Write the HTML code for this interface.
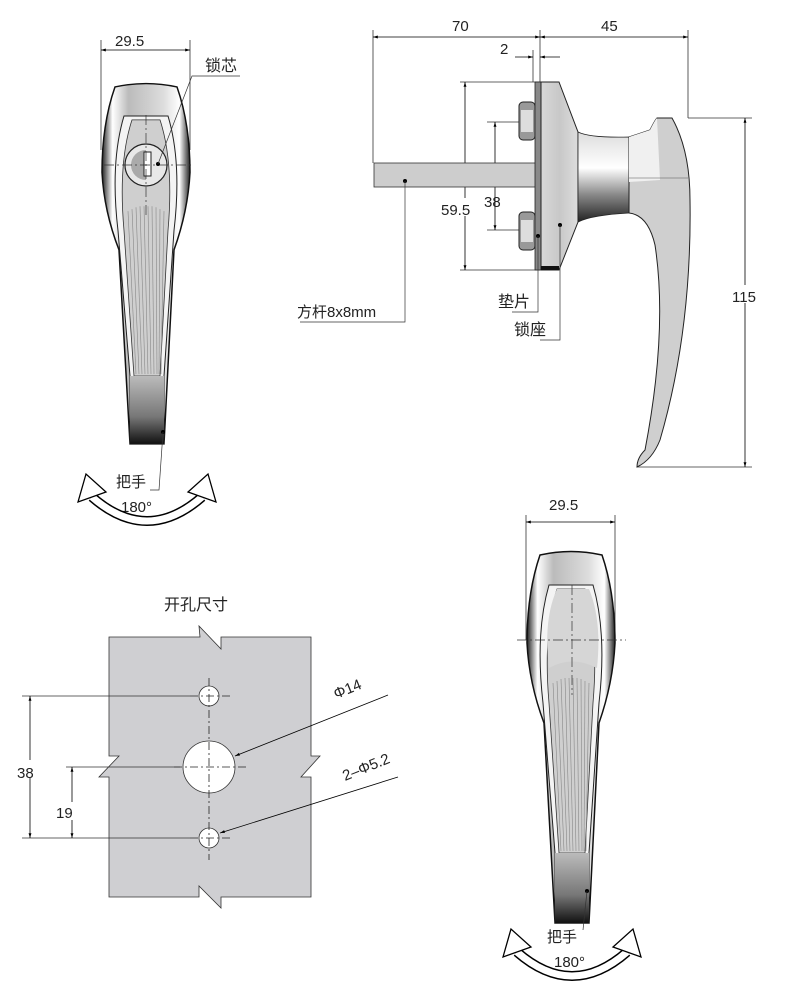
<!DOCTYPE html>
<html><head><meta charset="utf-8"><style>
html,body{margin:0;padding:0;background:#fff}
svg{display:block}
text{font-family:"Liberation Sans","Noto Sans CJK SC",sans-serif;fill:#222}
</style></head><body>
<svg width="788" height="1000" viewBox="0 0 788 1000" xmlns="http://www.w3.org/2000/svg">
<defs>
<linearGradient id="metal" x1="0" x2="1" y1="0" y2="0">
<stop offset="0" stop-color="#222"/><stop offset="0.12" stop-color="#fff"/><stop offset="0.3" stop-color="#bbb"/><stop offset="0.7" stop-color="#ddd"/><stop offset="0.88" stop-color="#fff"/><stop offset="1" stop-color="#222"/>
</linearGradient>
<linearGradient id="btm" x1="0" x2="0" y1="0" y2="1">
<stop offset="0" stop-color="#bbb"/><stop offset="0.6" stop-color="#777"/><stop offset="1" stop-color="#111"/>
</linearGradient>
<linearGradient id="side" x1="0" x2="1" y1="0" y2="0">
<stop offset="0" stop-color="#d8d8d8"/><stop offset="0.5" stop-color="#c8c8c8"/><stop offset="1" stop-color="#ddd"/>
</linearGradient>
<linearGradient id="neck" x1="0" x2="0" y1="0" y2="1">
<stop offset="0" stop-color="#ddd"/><stop offset="0.4" stop-color="#fff"/><stop offset="0.7" stop-color="#888"/><stop offset="1" stop-color="#222"/>
</linearGradient>
<marker id="ar" viewBox="0 0 10 10" refX="10" refY="5" markerWidth="8" markerHeight="6" orient="auto-start-reverse"><path d="M0,2 L10,5 L0,8Z" fill="#000"/></marker>
<g id="handle">
<path d="M13,2 Q44,-5 75,2 Q88,40 88,90 Q86,130 72,170 L62,370 L28,370 L17,170 Q2,130 0,90 Q0,40 13,2 Z" fill="url(#metal)" stroke="#111" stroke-width="1.5"/>
<path d="M22,32 L66,32 Q80,80 72,150 L62,300 L62,370 L28,370 L28,300 L16,150 Q8,80 22,32Z" fill="#f4f4f4" stroke="#222" stroke-width="1"/>
<path d="M30,36 L58,36 Q72,80 66,150 L58,300 L32,300 L22,150 Q16,80 30,36Z" fill="#cfcfcf" stroke="#333" stroke-width="0.8"/>
<g stroke="#888" stroke-width="0.6">
<line x1="26" y1="130" x2="34" y2="298"/><line x1="30" y1="128" x2="37" y2="298"/><line x1="34" y1="126" x2="40" y2="298"/><line x1="38" y1="125" x2="43" y2="298"/><line x1="42" y1="125" x2="46" y2="298"/><line x1="46" y1="125" x2="49" y2="298"/><line x1="50" y1="125" x2="52" y2="298"/><line x1="54" y1="126" x2="55" y2="298"/><line x1="58" y1="128" x2="57" y2="298"/><line x1="62" y1="130" x2="59" y2="298"/>
</g>
<path d="M28,300 L62,300 L62,370 L28,370Z" fill="url(#btm)"/>
</g>
<g id="rot">
<path d="M92,497 Q147,545 202,497" fill="none" stroke="#000" stroke-width="10"/>
<path d="M92,497 Q147,545 202,497" fill="none" stroke="#fff" stroke-width="7"/>
<path d="M78,502 L86,474 L106,492Z" fill="#fff" stroke="#000" stroke-width="1.3"/>
<path d="M216,502 L208,474 L188,492Z" fill="#fff" stroke="#000" stroke-width="1.3"/>
</g>
</defs>

<!-- TOP-LEFT FRONT VIEW -->
<line x1="101" y1="40" x2="101" y2="150" stroke="#333" stroke-width="0.8"/>
<line x1="190" y1="40" x2="190" y2="150" stroke="#333" stroke-width="0.8"/>
<line x1="101" y1="50" x2="190" y2="50" stroke="#000" stroke-width="0.8" marker-start="url(#ar)" marker-end="url(#ar)"/>
<text x="115" y="46" font-size="15">29.5</text>
<use href="#handle" transform="translate(102,85) scale(1.0,0.97)"/>
<circle cx="146" cy="165" r="21" fill="#e8e8e8" stroke="#222" stroke-width="1.2"/>
<path d="M146,150 A15,15 0 0,0 146,180Z" fill="#aaa"/>
<rect x="144" y="152" width="7" height="24" fill="#fff" stroke="#222" stroke-width="1"/>
<line x1="104" y1="165" x2="192" y2="165" stroke="#333" stroke-width="0.7" stroke-dasharray="10,3,2,3"/>
<line x1="146" y1="115" x2="146" y2="215" stroke="#333" stroke-width="0.7" stroke-dasharray="10,3,2,3"/>
<circle cx="158" cy="164" r="2" fill="#000"/>
<polyline points="158,164 192,76 240,76" fill="none" stroke="#333" stroke-width="0.7"/>
<text x="205" y="71" font-size="16">锁芯</text>
<circle cx="163" cy="432" r="2" fill="#000"/>
<polyline points="163,432 159,490 150,490" fill="none" stroke="#333" stroke-width="0.7"/>
<text x="116" y="487" font-size="15">把手</text>
<text x="121" y="512" font-size="15">180°</text>
<use href="#rot"/>

<!-- SIDE VIEW -->
<g stroke="#333" stroke-width="0.8" fill="none">
<line x1="373" y1="30" x2="373" y2="163"/>
<line x1="540" y1="30" x2="540" y2="82"/>
<line x1="533" y1="50" x2="533" y2="82"/>
<line x1="688" y1="30" x2="688" y2="118"/>
<line x1="460" y1="82" x2="540" y2="82"/>
<line x1="460" y1="270" x2="540" y2="270"/>
<line x1="487" y1="122" x2="548" y2="122"/>
<line x1="487" y1="230" x2="548" y2="230"/>
<line x1="688" y1="118" x2="752" y2="118"/>
<line x1="637" y1="467" x2="752" y2="467"/>
</g>
<line x1="373" y1="37" x2="540" y2="37" stroke="#000" stroke-width="0.8" marker-start="url(#ar)" marker-end="url(#ar)"/>
<line x1="540" y1="37" x2="688" y2="37" stroke="#000" stroke-width="0.8" marker-start="url(#ar)" marker-end="url(#ar)"/>
<line x1="515" y1="57" x2="533" y2="57" stroke="#000" stroke-width="0.8" marker-end="url(#ar)"/>
<line x1="560" y1="57" x2="540" y2="57" stroke="#000" stroke-width="0.8" marker-end="url(#ar)"/>
<line x1="465" y1="82" x2="465" y2="270" stroke="#000" stroke-width="0.8" marker-start="url(#ar)" marker-end="url(#ar)"/>
<line x1="495" y1="122" x2="495" y2="230" stroke="#000" stroke-width="0.8" marker-start="url(#ar)" marker-end="url(#ar)"/>
<line x1="745" y1="118" x2="745" y2="467" stroke="#000" stroke-width="0.8" marker-start="url(#ar)" marker-end="url(#ar)"/>
<text x="452" y="31" font-size="15">70</text>
<text x="601" y="31" font-size="15">45</text>
<text x="500" y="54" font-size="15">2</text>
<rect x="440" y="198" width="42" height="18" fill="#fff"/>
<text x="441" y="215" font-size="15">59.5</text>
<text x="484" y="207" font-size="15">38</text>
<rect x="730" y="285" width="36" height="18" fill="#fff"/>
<text x="732" y="302" font-size="15">115</text>
<!-- shaft -->
<rect x="374" y="163" width="162" height="24" fill="#cdcdcd" stroke="#333" stroke-width="0.8"/>
<!-- nuts -->
<rect x="519" y="102" width="16" height="38" rx="4" fill="#999" stroke="#222"/>
<rect x="521" y="110" width="12" height="22" fill="#ddd"/>
<rect x="519" y="212" width="16" height="38" rx="4" fill="#999" stroke="#222"/>
<rect x="521" y="220" width="12" height="22" fill="#ddd"/>
<!-- gasket & seat -->
<rect x="535" y="82" width="6" height="188" fill="#888" stroke="#222" stroke-width="0.8"/>
<path d="M541,82 L559,82 L578,132 L578,222 L559,270 L541,270Z" fill="url(#side)" stroke="#222" stroke-width="1"/>
<rect x="541" y="266" width="18" height="4" fill="#111"/>
<!-- neck -->
<path d="M578,132 Q590,138 629,137 L629,213 Q592,215 578,222Z" fill="url(#neck)" stroke="#222" stroke-width="0.8"/>
<!-- lever -->
<path d="M629,137 L650,130 Q655,120 657,118 L672,118 Q690,150 690,200 Q692,330 660,440 Q652,460 637,467 Q637,458 645,450 Q668,330 655,245 Q648,215 629,213Z" fill="#cfcfcf" stroke="#222" stroke-width="1"/>
<path d="M629,137 L650,130 Q655,120 657,118 L660,180 L629,182Z" fill="#f0f0f0"/>
<line x1="629" y1="178" x2="688" y2="178" stroke="#555" stroke-width="0.6"/>
<circle cx="405" cy="181" r="2" fill="#000"/>
<polyline points="405,181 405,322 300,322" fill="none" stroke="#333" stroke-width="0.7"/>
<text x="297" y="317" font-size="15">方杆8x8mm</text>
<circle cx="538" cy="236" r="2" fill="#000"/>
<polyline points="538,236 538,312 512,312" fill="none" stroke="#333" stroke-width="0.7"/>
<text x="498" y="307" font-size="16">垫片</text>
<circle cx="560" cy="225" r="2" fill="#000"/>
<polyline points="560,225 560,340 540,340" fill="none" stroke="#333" stroke-width="0.7"/>
<text x="514" y="335" font-size="16">锁座</text>

<!-- CUTOUT -->
<text x="164" y="610" font-size="16">开孔尺寸</text>
<path d="M109,637 L200,637 L199,626 L221,649 L221,637 L311,637 L311,756 L320,756 L301,777 L311,777 L311,897 L221,897 L221,908 L199,886 L199,897 L109,897 L109,777 L99,777 L119,756 L109,756Z" fill="#cfcfd2" stroke="#333" stroke-width="0.8"/>
<circle cx="209" cy="696" r="10" fill="#fff" stroke="#333" stroke-width="0.8"/>
<circle cx="209" cy="767" r="26" fill="#fff" stroke="#333" stroke-width="0.8"/>
<circle cx="209" cy="838" r="10" fill="#fff" stroke="#333" stroke-width="0.8"/>
<g stroke="#222" stroke-width="0.8" stroke-dasharray="8,3,2,3" fill="none">
<line x1="209" y1="678" x2="209" y2="860"/>
<line x1="190" y1="696" x2="232" y2="696"/>
<line x1="174" y1="767" x2="246" y2="767"/>
<line x1="190" y1="838" x2="232" y2="838"/>
</g>
<line x1="22" y1="696" x2="190" y2="696" stroke="#333" stroke-width="0.8"/>
<line x1="22" y1="838" x2="190" y2="838" stroke="#333" stroke-width="0.8"/>
<line x1="66" y1="767" x2="180" y2="767" stroke="#333" stroke-width="0.8"/>
<line x1="30" y1="696" x2="30" y2="838" stroke="#000" stroke-width="0.8" marker-start="url(#ar)" marker-end="url(#ar)"/>
<line x1="72" y1="767" x2="72" y2="838" stroke="#000" stroke-width="0.8" marker-start="url(#ar)" marker-end="url(#ar)"/>
<rect x="18" y="760" width="24" height="18" fill="#fff"/>
<text x="17" y="778" font-size="15">38</text>
<rect x="56" y="802" width="24" height="18" fill="#fff"/>
<text x="56" y="818" font-size="15">19</text>
<line x1="388" y1="695" x2="235" y2="756" stroke="#000" stroke-width="0.8" marker-end="url(#ar)"/>
<line x1="398" y1="777" x2="220" y2="833" stroke="#000" stroke-width="0.8" marker-end="url(#ar)"/>
<text x="0" y="0" font-size="15" transform="translate(336,699) rotate(-22)">Φ14</text>
<text x="0" y="0" font-size="15" transform="translate(345,781) rotate(-22)">2–Φ5.2</text>

<!-- BOTTOM-RIGHT FRONT VIEW -->
<line x1="526" y1="515" x2="526" y2="640" stroke="#333" stroke-width="0.8"/>
<line x1="615" y1="515" x2="615" y2="640" stroke="#333" stroke-width="0.8"/>
<line x1="526" y1="522" x2="615" y2="522" stroke="#000" stroke-width="0.8" marker-start="url(#ar)" marker-end="url(#ar)"/>
<text x="549" y="510" font-size="15">29.5</text>
<use href="#handle" transform="translate(527,553)"/>
<path d="M557,589 L589,589 Q602,620 597,668 Q572,655 549,668 Q543,620 557,589Z" fill="#d6d6d6"/>
<line x1="517" y1="640" x2="626" y2="640" stroke="#333" stroke-width="0.7" stroke-dasharray="10,3,2,3"/>
<line x1="572" y1="585" x2="572" y2="695" stroke="#333" stroke-width="0.7" stroke-dasharray="10,3,2,3"/>
<circle cx="587" cy="891" r="2" fill="#000"/>
<line x1="587" y1="891" x2="583" y2="930" stroke="#333" stroke-width="0.7"/>
<text x="547" y="942" font-size="15">把手</text>
<text x="554" y="967" font-size="15">180°</text>
<use href="#rot" transform="translate(425,455)"/>
</svg>
</body></html>
